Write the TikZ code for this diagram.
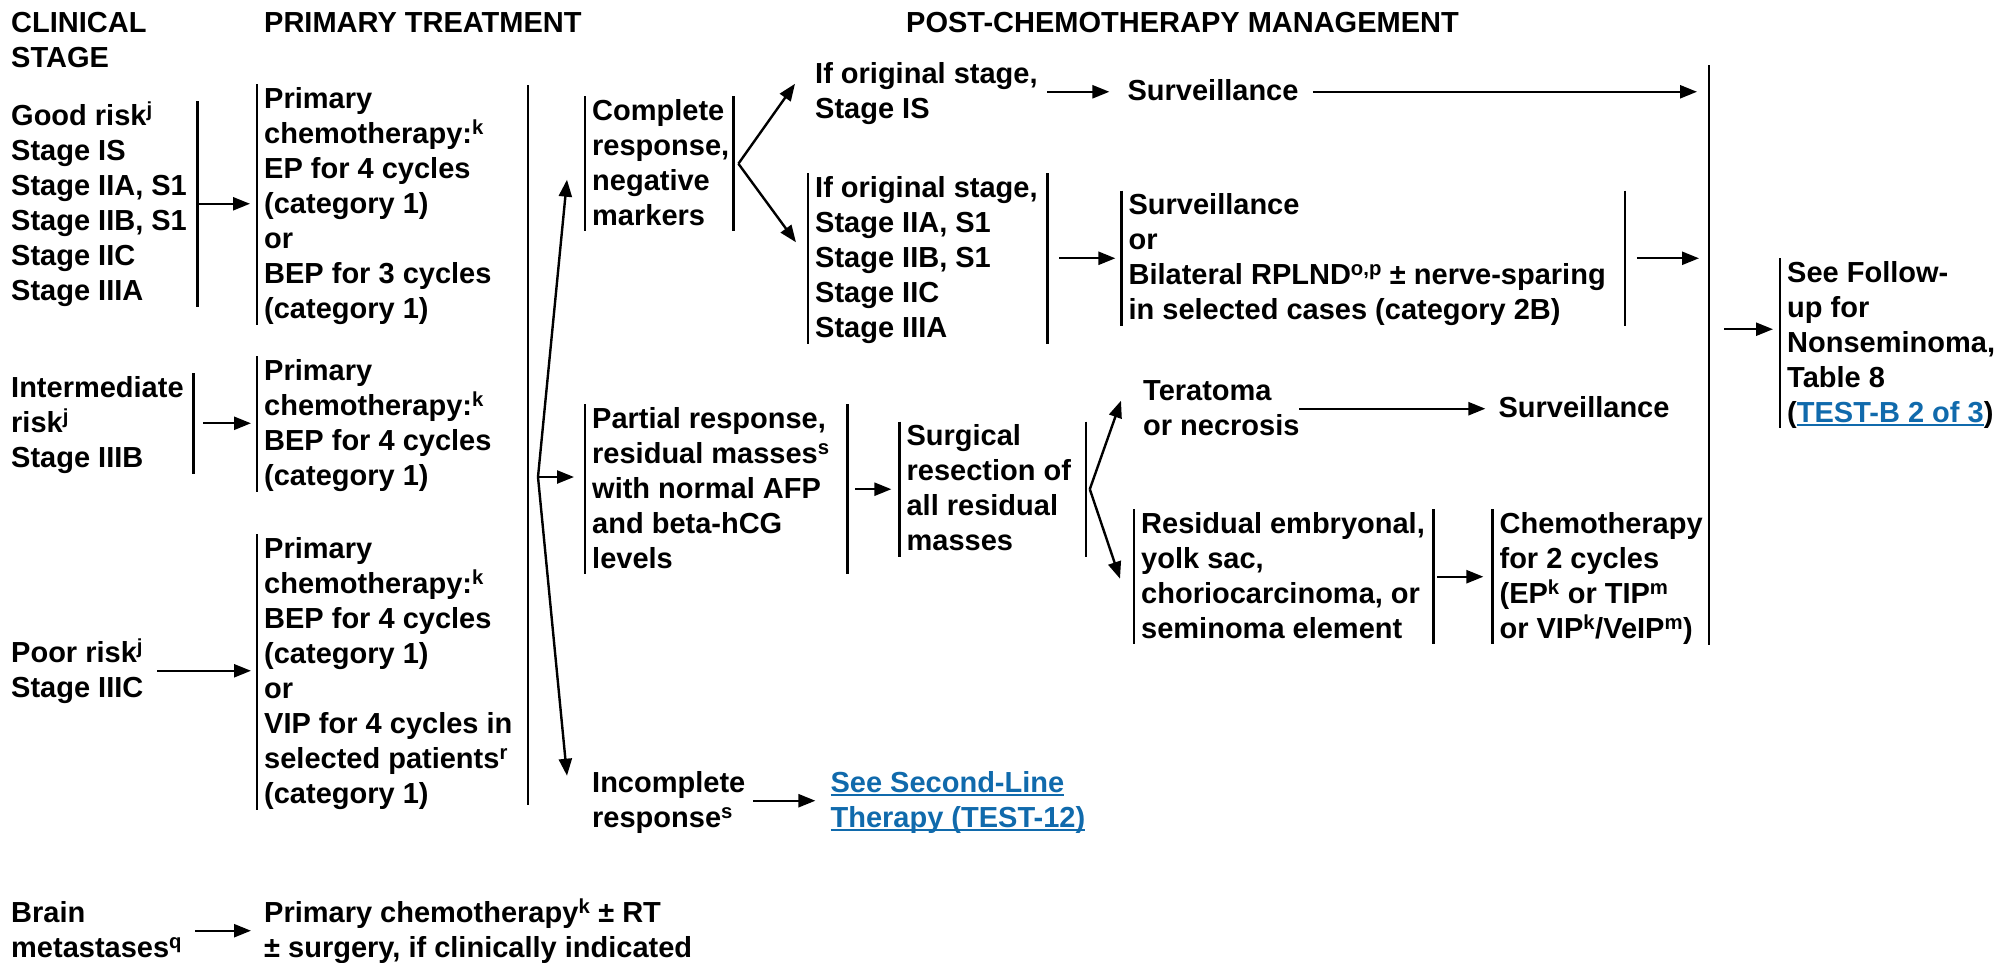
\documentclass[tikz,border=0pt]{standalone}
\usepackage{fontspec}
\setmainfont{Liberation Sans}
\usepackage{tikz}
\usetikzlibrary{positioning,arrows.meta}
\definecolor{linkblue}{RGB}{16,106,172}
\hyphenpenalty=10000
\exhyphenpenalty=10000
\newcommand{\tst}{\rule{0pt}{24pt}}
\newcommand{\bst}{\rule[-6pt]{0pt}{6pt}}
\newcommand{\sps}[1]{\smash{\textsuperscript{#1}}}
\newlength{\lnkw}
\newcommand{\lnk}[1]{\settowidth{\lnkw}{#1}\textcolor{linkblue}{\rlap{\rule[-4pt]{\lnkw}{2pt}}#1}}
\tikzset{
	blk/.style={inner xsep=7pt, inner ysep=0pt, anchor=north west, align=flush left, text width=#1, execute at begin node=\tst, execute at end node=\bst},
	barline/.style={draw=black, line width=2.4pt},
	lbar/.style={append after command={(\tikzlastnode.north west) edge[barline] (\tikzlastnode.south west)}},
	rbar/.style={append after command={(\tikzlastnode.north east) edge[barline] (\tikzlastnode.south east)}},
	arr/.style={draw=black, line width=2.4pt, -{Triangle[length=17pt,width=13pt]}, shorten <=0pt, shorten >=7pt},
	fan/.style={arr, shorten >=0pt}
}
\begin{document}
\begin{tikzpicture}[x=1pt, y=-1pt, font=\fontsize{29}{35}\selectfont\bfseries]
	\useasboundingbox (0,0) rectangle (2013,962);
	\node[blk=140pt] (hcs) at (4,8) {CLINICAL\\STAGE};
	\node[blk=330pt] (hpt) at (257,8) {PRIMARY TREATMENT};
	\node[blk=570pt] (hpc) at (899,8) {POST-CHEMOTHERAPY MANAGEMENT};

	\node[blk=179pt, rbar] (good) at (4,101) {Good risk\sps{j}\\Stage IS\\Stage IIA, S1\\Stage IIB, S1\\Stage IIC\\Stage IIIA};
	\node[blk=175pt, rbar] (inter) at (4,373) {Intermediate\\risk\sps{j}\\Stage IIIB};
	\node[blk=139pt] (poor) at (4,638) {Poor risk\sps{j}\\Stage IIIC};
	\node[blk=177pt] (brain) at (4,898) {Brain\\metastases\sps{q}};

	\node[blk=260pt, lbar] (pt1) at (257,84) {Primary\\chemotherapy:\sps{k}\\EP for 4 cycles\\(category 1)\\or\\BEP for 3 cycles\\(category 1)};
	\node[blk=260pt, lbar] (pt2) at (257,356) {Primary\\chemotherapy:\sps{k}\\BEP for 4 cycles\\(category 1)};
	\node[blk=260pt, lbar] (pt3) at (257,534) {Primary\\chemotherapy:\sps{k}\\BEP for 4 cycles\\(category 1)\\or\\VIP for 4 cycles in\\selected patients\sps{r}\\(category 1)};
	\node[blk=480pt] (pt4) at (257,898) {Primary chemotherapy\sps{k} ± RT\\± surgery, if clinically indicated};

	\coordinate (split1) at (528,85);
	\coordinate (split2) at (528,805);
	\coordinate (fork) at (538,477);

	\node[blk=134pt, lbar, rbar] (cmp) at (585,96) {Complete\\response,\\negative\\markers};
	\node[blk=248pt, lbar, rbar] (part) at (585,404) {Partial response,\\residual masses\sps{s}\\with normal AFP\\and beta-hCG\\levels};
	\node[blk=154pt] (inc) at (585,768) {Incomplete\\response\sps{s}};
	\node[blk=270pt, right=70pt of inc] (second) {\lnk{See Second-Line}\\\lnk{Therapy (TEST-12)}};

	\node[blk=225pt] (orig1) at (808,59) {If original stage,\\Stage IS};
	\node[blk=172pt, right=73pt of orig1] (surv1) {Surveillance};
	\node[blk=225pt, lbar, rbar] (orig2) at (808,173) {If original stage,\\Stage IIA, S1\\Stage IIB, S1\\Stage IIC\\Stage IIIA};
	\node[blk=489pt, lbar, rbar, right=74pt of orig2] (rplnd) {Surveillance\\or\\Bilateral RPLND\sps{o,p} ± nerve-sparing\\in selected cases (category 2B)};
	\node[blk=172pt, lbar, rbar, right=52pt of part] (surg) {Surgical\\resection of\\all residual\\masses};
	\node[blk=158pt] (tera) at (1136,376) {Teratoma\\or necrosis};
	\node[blk=175pt, right=183pt of tera] (surv2) {Surveillance};
	\node[blk=285pt, lbar, rbar] (resid) at (1134,509) {Residual embryonal,\\yolk sac,\\choriocarcinoma, or\\seminoma element};
	\node[blk=210pt, lbar, right=59pt of resid] (chemo) {Chemotherapy\\for 2 cycles\\(EP\sps{k} or TIP\sps{m}\\or VIP\sps{k}/VeIP\sps{m})};
	\node[blk=215pt, lbar] (follow) at (1780,258) {See Follow-\\up for\\Nonseminoma,\\Table 8\\(\lnk{TEST-B 2 of 3})};

	\coordinate (col1) at (1709,65);
	\coordinate (col2) at (1709,645);
	\coordinate (fork1) at ([xshift=5pt]cmp.east);
	\coordinate (fork2) at ([xshift=4pt]surg.east);
	\coordinate (fin) at ([yshift=14pt]follow.west);

	\draw[barline] (split1) -- (split2);
	\draw[barline] (col1) -- (col2);
	\draw[arr] (good.east) -- (good.east -| pt1.west);
	\draw[arr, shorten <=10pt, shorten >=6pt] (inter.east) -- (inter.east -| pt2.west);
	\draw[arr, shorten >=6pt] (poor.east) -- (poor.east -| pt3.west);
	\draw[arr, shorten >=6pt] (brain.east) -- (brain.east -| pt4.west);
	\draw[fan] (fork) -- ([xshift=-18pt,yshift=-16pt]cmp.west);
	\draw[fan, shorten >=11pt] (fork) -- (fork -| part.west);
	\draw[fan] (fork) -- ([xshift=-18pt,yshift=25pt]inc.west);
	\draw[fan] (fork1) -- ([xshift=-13pt,yshift=8pt]orig1.west);
	\draw[fan] (fork1) -- ([xshift=-12pt,yshift=16pt]orig2.west);
	\draw[arr, shorten >=11pt] (orig1.east) -- (surv1.west);
	\draw[arr, shorten <=6pt, shorten >=12pt] (surv1.east) -- (surv1.east -| col1);
	\draw[arr, shorten <=12pt, shorten >=6pt] (orig2.east) -- (rplnd.west);
	\draw[arr, shorten <=12pt, shorten >=10pt] (rplnd.east) -- (rplnd.east -| col1);
	\draw[arr, shorten <=8pt, shorten >=8pt] (part.east) -- (surg.west);
	\draw[fan] (fork2) -- ([xshift=-15pt,yshift=8pt]tera.west);
	\draw[fan] (fork2) -- ([xshift=-14pt,yshift=-2pt]resid.west);
	\draw[arr, shorten <=-9pt, shorten >=6pt] (tera.east) -- (surv2.west);
	\draw[arr, shorten <=4pt, shorten >=9pt] (resid.east) -- (chemo.west);
	\draw[arr, shorten >=8pt] (inc.east) -- (second.west);
	\draw[arr, shorten <=15pt] (fin -| col1) -- (fin);
\end{tikzpicture}
\end{document}
